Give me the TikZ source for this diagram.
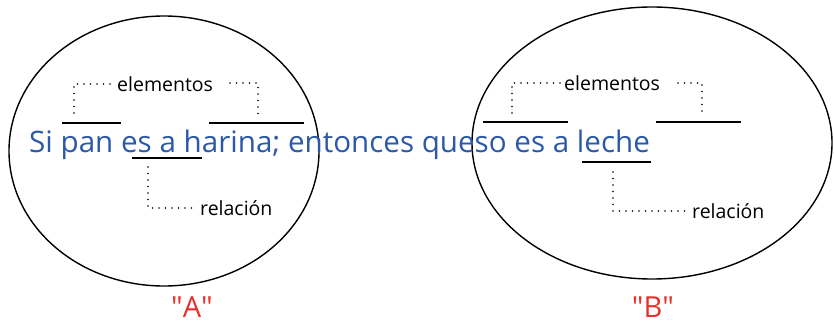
\documentclass[tikz,border=0pt]{standalone}
\usepackage{fontspec}
\setmainfont{Open Sans}
\definecolor{frase}{HTML}{2B59A8}
\definecolor{rojo}{HTML}{E8302A}
\tikzset{
  blank/.style={line width=1.6pt},
  dotline/.style={line width=1.7pt, line cap=round, dash pattern=on 0pt off 6.5pt},
  etiq/.style={font=\fontsize{19.5}{19.5}\selectfont, inner sep=3pt},
  marca/.style={text=rojo, inner sep=0pt, anchor=base, font=\fontsize{29}{29}\selectfont},
}
\begin{document}
\begin{tikzpicture}[x=1pt,y=-1pt]
\useasboundingbox (0,0) rectangle (834,326);

% conjuntos
\draw[line width=1.4pt] (164,151) ellipse [x radius=155, y radius=135];
\draw[line width=1.4pt] (652,143) ellipse [x radius=180, y radius=136];

\node (frase) at (29,152) [anchor=base west, inner sep=0pt, text=frase,
  font=\fontsize{29.6}{29.6}\selectfont] {Si pan es a harina; entonces queso es a leche};

\node (A) at (192,317) [marca] {\textquotedbl A\textquotedbl};
\node (B) at (653,317) [marca] {\textquotedbl B\textquotedbl};

% espacios en blanco, conjunto A
\coordinate (a1) at (62,123); \coordinate (a2) at (121,123);
\coordinate (a3) at (209,123); \coordinate (a4) at (304,123);
\coordinate (a5) at (132,158); \coordinate (a6) at (202,158);
\draw[blank]
(a1) to (a2)
(a3) to (a4)
(a5) to (a6);

\node (elA) at (114,84) [etiq, anchor=west] {elementos};
\node (relA) at (197,208) [etiq, anchor=west] {relación};
\coordinate (pA1) at (74,113);
\coordinate (pA2) at (230,83); \coordinate (pA3) at (258,115);
\coordinate (pA4) at (148,167);
\draw[dotline]
(pA1) |- (elA.west)
(pA2) -| (pA3)
(pA4) |- (relA.west);

% espacios en blanco, conjunto B
\coordinate (b1) at (483,122); \coordinate (b2) at (568,122);
\coordinate (b3) at (656,122); \coordinate (b4) at (741,122);
\coordinate (b5) at (582,162); \coordinate (b6) at (651,162);
\draw[blank]
(b1) to (b2)
(b3) to (b4)
(b5) to (b6);

\node (elB) at (561,83) [etiq, anchor=west] {elementos};
\node (relB) at (689,211) [etiq, anchor=west] {relación};
\coordinate (pB1) at (512,113);
\coordinate (pB2) at (678,83); \coordinate (pB3) at (702,115);
\coordinate (pB4) at (613,172);
\draw[dotline]
(pB1) |- (elB.west)
(pB2) -| (pB3)
(pB4) |- (relB.west);
\end{tikzpicture}
\end{document}
